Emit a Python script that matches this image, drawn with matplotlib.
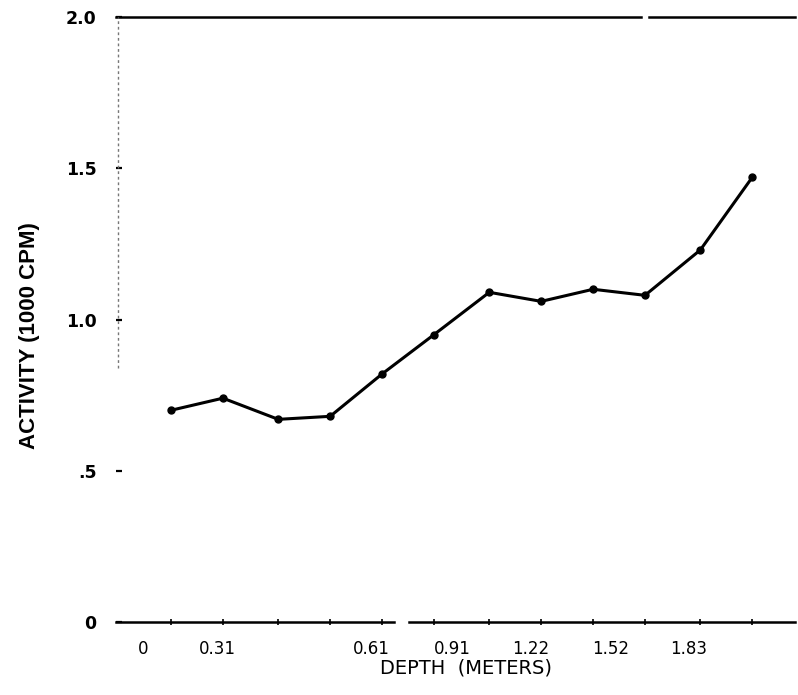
import numpy as np
import matplotlib.pyplot as plt
from matplotlib.ticker import FixedLocator, NullFormatter

# depth in meters (every half foot), activity in 1000 CPM
depth = [0.15, 0.30, 0.46, 0.61, 0.76, 0.91, 1.07, 1.22, 1.37, 1.52, 1.68, 1.83]
activity = [0.70, 0.74, 0.67, 0.68, 0.82, 0.95, 1.09, 1.06, 1.10, 1.08, 1.23, 1.47]

x_labels = ["0", "0.31", "0.61", "0.91", "1.22", "1.52", "1.83"]
# where the labels sit in the printed original (they drift from the ticks)
x_label_pos = [0.07, 0.285, 0.73, 0.962, 1.19, 1.42, 1.645]

y_ticks = [0, 0.5, 1.0, 1.5, 2.0]
y_labels = ["0", ".5", "1.0", "1.5", "2.0"]

fig = plt.figure(figsize=(7.98, 6.95), dpi=100)
ax = fig.add_axes([0.1454, 0.105, 0.851, 0.8705])

ax.plot(depth, activity, color="black", lw=2.2, marker="o", ms=5,
        solid_joinstyle="round", zorder=3)

ax.set_xlim(-0.009, 1.954)
ax.set_ylim(0, 2.0)

for s in ax.spines.values():
    s.set_visible(False)

# frame as printed: top and bottom rules with small breaks, faint left edge
tr = ax.transAxes
ax.plot([0, 0.773], [1, 1], color="black", lw=1.8, transform=tr, clip_on=False)
ax.plot([0.785, 1], [1, 1], color="black", lw=1.8, transform=tr, clip_on=False)
ax.plot([0.0, 0.41], [0, 0], color="black", lw=1.8, transform=tr, clip_on=False)
ax.plot([0.432, 1], [0, 0], color="black", lw=1.8, transform=tr, clip_on=False)
ax.plot([0.003, 0.003], [0.42, 1], color="#777777", lw=1.0, ls=(0, (2, 2)),
        transform=tr, clip_on=False)

ax.xaxis.set_major_locator(FixedLocator(x_label_pos))
ax.set_xticklabels(x_labels)
ax.xaxis.set_minor_locator(FixedLocator(depth))
ax.xaxis.set_minor_formatter(NullFormatter())
ax.tick_params(axis="x", which="major", length=0, pad=13, labelsize=12)
ax.tick_params(axis="x", which="minor", direction="inout", length=4,
               width=1.2, color="black")

ax.set_yticks(y_ticks)
ax.set_yticklabels(y_labels, fontweight="bold")
ax.tick_params(axis="y", direction="in", length=4, width=1.6, pad=14,
               labelsize=12.5)

ax.set_xlabel("DEPTH  (METERS)", fontsize=14)
ax.xaxis.set_label_coords(0.515, -0.06)
ax.set_ylabel("ACTIVITY (1000 CPM)", fontsize=16,
              family=["Liberation Sans", "DejaVu Sans"], fontweight="bold")
ax.yaxis.set_label_coords(-0.112, 0.474)

fig.savefig("out.png", dpi=100)
